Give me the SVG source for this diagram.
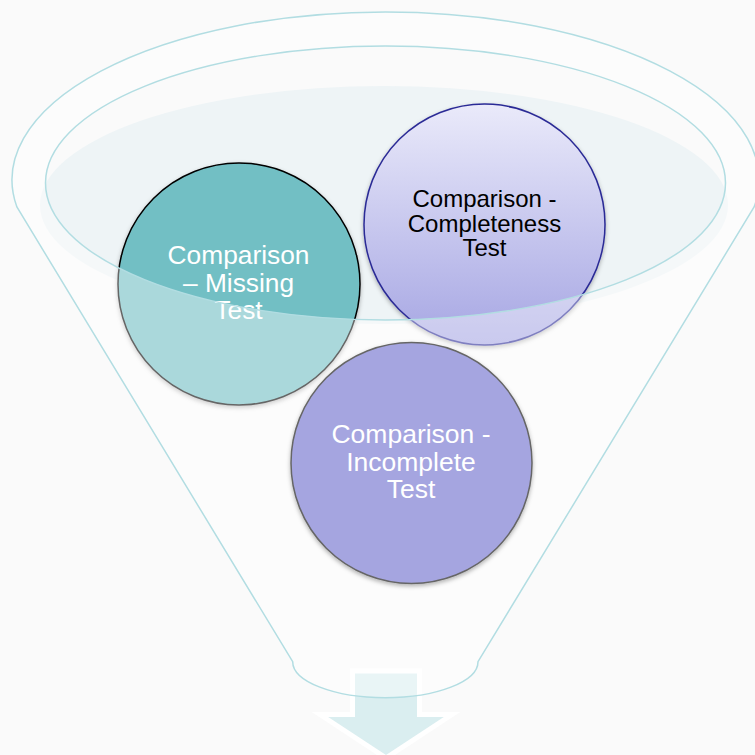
<svg xmlns="http://www.w3.org/2000/svg" width="755" height="755" viewBox="0 0 755 755">
<defs>
<linearGradient id="gComp" x1="0" y1="0" x2="0" y2="1">
<stop offset="0" stop-color="#eaeafa"/>
<stop offset="1" stop-color="#a6a6e3"/>
</linearGradient>
<filter id="sh" x="-10%" y="-10%" width="120%" height="125%">
<feDropShadow dx="0" dy="2" stdDeviation="2" flood-color="#000" flood-opacity="0.3"/>
</filter>
<style>
.t{font-family:"Liberation Sans",Arial,sans-serif;text-anchor:middle}
.fl{fill:none;stroke:#b2dde2;stroke-width:1.5}
</style>
</defs>
<rect x="0" y="0" width="755" height="755" fill="#fafafa"/>
<ellipse id="rim-fill" cx="384" cy="205" rx="344" ry="119" fill="#eef4f6"/>
<g id="node-missing">
<circle cx="239" cy="284" r="121" fill="#72bfc4" stroke="#000" stroke-width="1.5" filter="url(#sh)"/>
<text class="t" font-size="26.3" fill="#fff"><tspan x="238.5" y="263.5">Comparison</tspan><tspan x="238.5" y="292">– Missing</tspan><tspan x="238.5" y="319">Test</tspan></text>
</g>
<g id="node-completeness">
<circle cx="484.5" cy="224.5" r="120.5" fill="url(#gComp)" stroke="#2b2b96" stroke-width="1.5" filter="url(#sh)"/>
<text class="t" font-size="24" fill="#000"><tspan x="484.5" y="207">Comparison -</tspan><tspan x="484.5" y="231.7">Completeness</tspan><tspan x="484.5" y="256.4">Test</tspan></text>
</g>
<g id="connectors">
<polygon id="arrow" points="352.5,671 419.5,671 419.5,714.5 452,714.5 386,758 320,714.5 352.5,714.5" fill="#daeef0" stroke="#fff" stroke-width="5" stroke-linejoin="miter"/>
</g>
<g id="funnel">
<path d="M 16.9 207 A 373.5 168 0 1 1 754.1 207 L 478 661.7 A 92.6 36 0 0 1 292.7 661.7 Z M 45.5 183 A 340 137 0 1 0 725.5 183 A 340 137 0 1 0 45.5 183 Z" fill="#fff" fill-opacity="0.4" fill-rule="evenodd"/>
<path class="fl" d="M 16.9 207 A 373.5 168 0 1 1 754.1 207 L 478 661.7 A 92.6 36 0 0 1 292.7 661.7 Z"/>
<ellipse class="fl" cx="385.5" cy="183" rx="340" ry="137"/>
</g>
<g id="node-incomplete">
<circle cx="411.5" cy="463" r="120.5" fill="#a5a5e0" stroke="#666" stroke-width="1.5" filter="url(#sh)"/>
<text class="t" font-size="26.5" fill="#fff"><tspan x="411" y="443">Comparison -</tspan><tspan x="411" y="470.5">Incomplete</tspan><tspan x="411" y="498">Test</tspan></text>
</g>
</svg>
